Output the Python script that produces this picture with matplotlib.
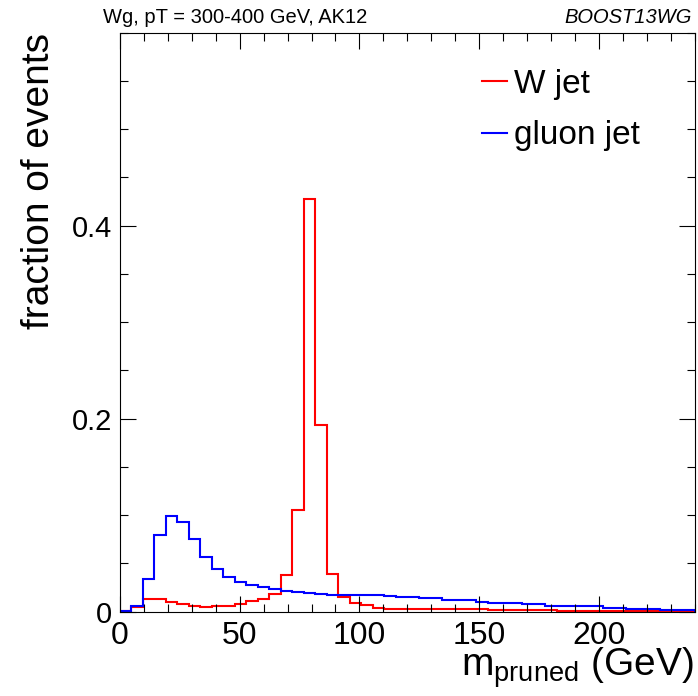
import numpy as np
import matplotlib.pyplot as plt
from matplotlib.ticker import MultipleLocator

plt.rcParams['font.family'] = ['Liberation Sans', 'DejaVu Sans']
plt.rcParams['mathtext.fontset'] = 'custom'
plt.rcParams['mathtext.rm'] = 'Liberation Sans'

# 50 bins, 0-240 GeV
bin_edges = np.linspace(0, 240, 51)

w_jet = [0.0005, 0.0045, 0.0131, 0.0131, 0.0103, 0.0080, 0.0062, 0.0052, 0.0062, 0.0062,
         0.0080, 0.0110, 0.0131, 0.0186, 0.0380, 0.1059, 0.4276, 0.1931, 0.0390, 0.0155,
         0.0093, 0.0070, 0.0041, 0.0030, 0.0029, 0.0028, 0.0028, 0.0028, 0.0027, 0.0027,
         0.0027, 0.0026, 0.0018, 0.0018, 0.0018, 0.0018, 0.0018, 0.0018, 0.0008, 0.0008,
         0.0008, 0.0008, 0.0008, 0.0008, 0.0008, 0.0008, 0.0008, 0.0007, 0.0007, 0.0006]

gluon_jet = [0.0007, 0.0062, 0.0343, 0.0800, 0.0993, 0.0928, 0.0749, 0.0569, 0.0440, 0.0362,
             0.0307, 0.0276, 0.0255, 0.0238, 0.0214, 0.0200, 0.0190, 0.0182, 0.0178, 0.0174,
             0.0172, 0.0172, 0.0170, 0.0158, 0.0155, 0.0152, 0.0143, 0.0141, 0.0122, 0.0121,
             0.0119, 0.0103, 0.0089, 0.0087, 0.0085, 0.0078, 0.0076, 0.0060, 0.0059, 0.0059,
             0.0058, 0.0057, 0.0042, 0.0041, 0.0032, 0.0031, 0.0030, 0.0019, 0.0018, 0.0018]

x_ticks = [0, 50, 100, 150, 200]
y_ticks = [0, 0.2, 0.4]
y_tick_labels = ['0', '0.2', '0.4']

fig = plt.figure(figsize=(6.98, 6.96), dpi=100)
ax = fig.add_axes([120 / 698, 1 - 611.7 / 696, 574.5 / 698, 579 / 696])

ax.stairs(w_jet, bin_edges, color='#ff0000', lw=1.5, label='W jet')
ax.stairs(gluon_jet, bin_edges, color='#0000ff', lw=1.5, label='gluon jet')

ax.set_xlim(0, 240)
ax.set_ylim(0, 0.6)

ax.set_xticks(x_ticks)
ax.set_yticks(y_ticks)
ax.set_yticklabels(y_tick_labels)
ax.xaxis.set_minor_locator(MultipleLocator(10))
ax.yaxis.set_minor_locator(MultipleLocator(0.05))
ax.tick_params(which='both', direction='in', top=True, right=True, width=0.8, color='black')
ax.tick_params(which='major', length=11.5)
ax.tick_params(which='minor', length=5.8)
ax.tick_params(axis='x', labelsize=23, pad=7)
ax.tick_params(axis='y', labelsize=21, pad=5.5)
for sp in ax.spines.values():
    sp.set_linewidth(0.8)

ax.set_ylabel('fraction of events', fontsize=28, loc='top')
ax.yaxis.set_label_coords(-0.11, 1.0)

fig.text(694 / 698, 1 - 676 / 696, r'm$_{\mathrm{pruned}}$ (GeV)', fontsize=28,
         ha='right', va='baseline')

fig.text(103 / 698, 1 - 23 / 696, 'Wg, pT = 300-400 GeV, AK12', fontsize=14.5, va='baseline')
fig.text(692 / 698, 1 - 23 / 696, 'BOOST13WG', fontsize=14.5, style='italic',
         ha='right', va='baseline')

ax.legend(loc='upper left', bbox_to_anchor=(0.63, 0.938), frameon=False, fontsize=24,
          handlelength=0.75, handletextpad=0.2, labelspacing=0.62, borderpad=0,
          borderaxespad=0)

fig.savefig('out.png', dpi=100)
